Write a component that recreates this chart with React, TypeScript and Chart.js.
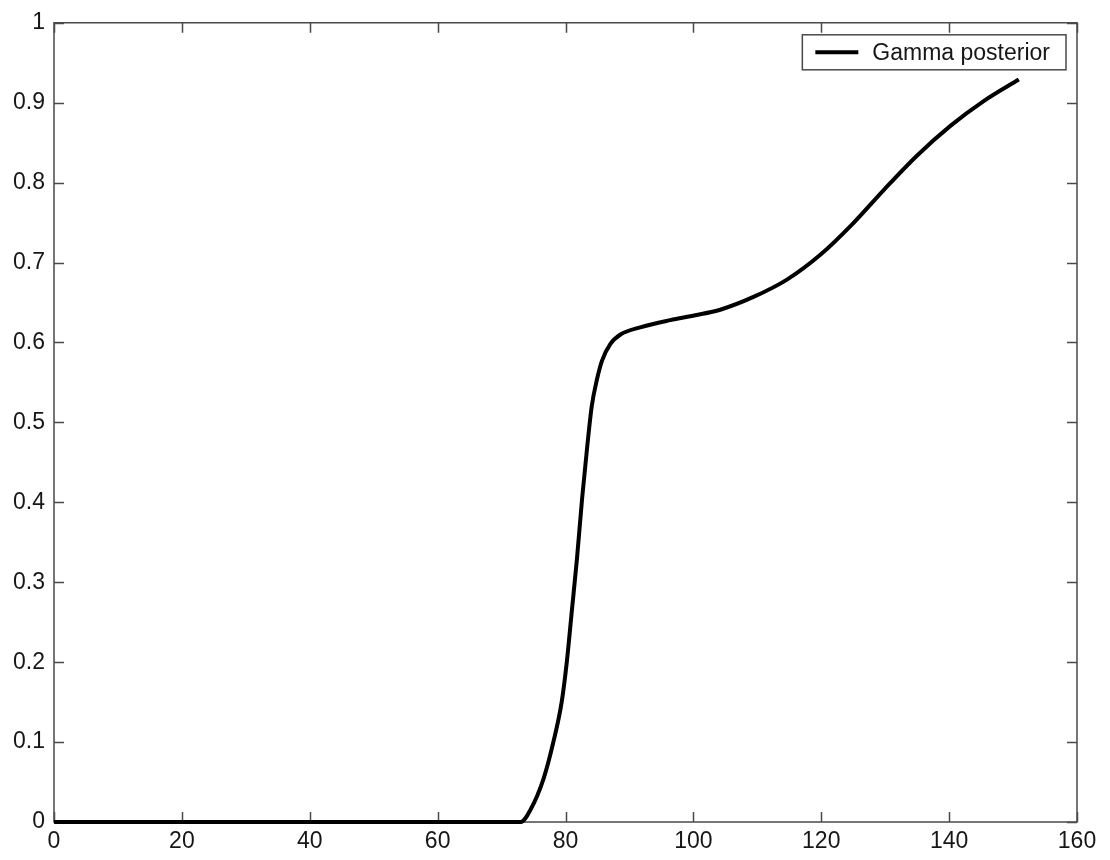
import React, { useEffect, useRef } from "react";
import { Chart, registerables } from "chart.js";

Chart.register(...registerables);

const SERIES_LABEL = "Gamma posterior";
const xValues = [
  0, 73, 74.5, 76.6, 78.1, 79.4, 80.2, 81.0, 81.8, 82.6, 83.4, 84.1, 84.9, 85.7, 87.0, 88.6,
  91.7, 96.4, 100.3, 104.2, 109.4, 114.7, 119.9, 125.1, 129.8, 135.0, 140.2, 145.4, 150.9,
];
const yValues = [
  0, 0, 0.015, 0.055, 0.1, 0.15, 0.2, 0.265, 0.33, 0.405, 0.47, 0.52, 0.553, 0.577, 0.598, 0.61,
  0.619, 0.628, 0.634, 0.641, 0.657, 0.679, 0.71, 0.75, 0.791, 0.834, 0.871, 0.902, 0.929,
];
const X_MIN = 0;
const X_MAX = 160;
const X_STEP = 20;
const Y_MIN = 0;
const Y_MAX = 1;
const Y_STEP = 0.1;

const FONT = '"Liberation Sans", Arial, Helvetica, sans-serif';
const FRAME = "#4a4a4a";
const TEXT = "#161616";

const framePlugin = {
  id: "matlabFrame",
  beforeDatasetsDraw(chart: any) {
    const { ctx, chartArea } = chart;
    const { left, right, top, bottom } = chartArea;
    const xs = chart.scales.x;
    const ys = chart.scales.y;
    const tl = 10;
    ctx.save();
    ctx.strokeStyle = FRAME;
    ctx.lineWidth = 1.5;
    ctx.beginPath();
    ctx.rect(left, top, right - left, bottom - top);
    ctx.stroke();
    ctx.beginPath();
    xs.ticks.forEach((t: any) => {
      const px = Math.round(xs.getPixelForValue(t.value)) + 0.5;
      ctx.moveTo(px, bottom);
      ctx.lineTo(px, bottom - tl);
      ctx.moveTo(px, top);
      ctx.lineTo(px, top + tl);
    });
    ys.ticks.forEach((t: any) => {
      const py = Math.round(ys.getPixelForValue(t.value)) + 0.5;
      ctx.moveTo(left, py);
      ctx.lineTo(left + tl, py);
      ctx.moveTo(right, py);
      ctx.lineTo(right - tl, py);
    });
    ctx.stroke();
    ctx.restore();
  },
  afterDatasetsDraw(chart: any) {
    const { ctx, chartArea } = chart;
    const ds = chart.data.datasets[0];
    ctx.save();
    ctx.font = `23px ${FONT}`;
    const textW = ctx.measureText(ds.label).width;
    const boxRight = chartArea.right - 11;
    const boxTop = chartArea.top + 12;
    const boxH = 35;
    const lineLen = 43;
    const padL = 13;
    const gap = 14;
    const padR = 16;
    const boxW = padL + lineLen + gap + textW + padR;
    const boxLeft = boxRight - boxW;
    ctx.fillStyle = "#ffffff";
    ctx.fillRect(boxLeft, boxTop, boxW, boxH);
    ctx.strokeStyle = FRAME;
    ctx.lineWidth = 1.5;
    ctx.strokeRect(boxLeft, boxTop, boxW, boxH);
    const cy = boxTop + boxH / 2;
    ctx.strokeStyle = "#000000";
    ctx.lineWidth = 4;
    ctx.beginPath();
    ctx.moveTo(boxLeft + padL, cy);
    ctx.lineTo(boxLeft + padL + lineLen, cy);
    ctx.stroke();
    ctx.fillStyle = TEXT;
    ctx.textBaseline = "middle";
    ctx.textAlign = "left";
    ctx.fillText(ds.label, boxLeft + padL + lineLen + gap, cy + 1);
    ctx.restore();
  },
};

export default function App() {
  const canvasRef = useRef<HTMLCanvasElement | null>(null);

  useEffect(() => {
    if (!canvasRef.current) return;
    const points = xValues.map((x, i) => ({ x, y: yValues[i] }));
    const chart = new Chart(canvasRef.current, {
      type: "line",
      data: {
        datasets: [
          {
            label: SERIES_LABEL,
            data: points,
            borderColor: "#000000",
            borderWidth: 4,
            pointRadius: 0,
            fill: false,
            cubicInterpolationMode: "monotone",
            clip: 10,
          } as any,
        ],
      },
      options: {
        responsive: false,
        animation: false,
        events: [],
        layout: { padding: { top: 16, right: 33, left: 0, bottom: 0 } },
        plugins: {
          legend: { display: false },
          tooltip: { enabled: false },
          title: { display: false },
        },
        scales: {
          x: {
            type: "linear",
            min: X_MIN,
            max: X_MAX,
            grid: { display: false, drawTicks: false },
            border: { display: false },
            ticks: {
              stepSize: X_STEP,
              color: TEXT,
              font: { family: FONT, size: 23 },
              padding: 6,
              maxRotation: 0,
            },
            afterFit: (s: any) => {
              s.height = 38;
            },
          },
          y: {
            type: "linear",
            min: Y_MIN,
            max: Y_MAX,
            grid: { display: false, drawTicks: false },
            border: { display: false },
            ticks: {
              stepSize: Y_STEP,
              color: TEXT,
              font: { family: FONT, size: 23 },
              padding: 9,
              callback: (v: any) => {
                const n = Number(v);
                if (Math.abs(n) < 1e-9) return "0";
                if (Math.abs(n - 1) < 1e-9) return "1";
                return n.toFixed(1);
              },
            },
            afterFit: (s: any) => {
              s.width = 54;
            },
          },
        },
      },
      plugins: [framePlugin],
    });
    return () => chart.destroy();
  }, []);

  return (
    <div style={{ position: "fixed", left: 0, top: 0, width: 1110, height: 860, background: "#fff" }}>
      <canvas ref={canvasRef} width={1110} height={860} />
    </div>
  );
}
